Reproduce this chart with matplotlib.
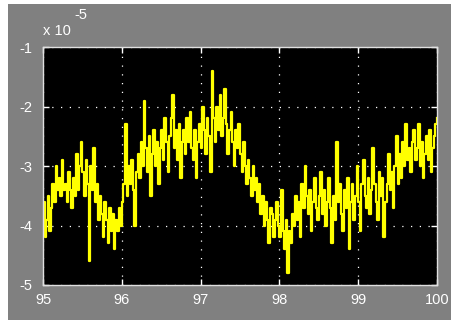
import numpy as np
import matplotlib
matplotlib.use("Agg")
import matplotlib.pyplot as plt
from matplotlib.patches import Rectangle

# signal samples, in units of 1e-5, every 0.02 s from t=95
t0 = 95.0
dt = 0.02
y_e5 = [
    -3.6, -4.2, -3.9, -3.5, -4.1, -3.7, -3.3, -3.6, -3.0, -3.4, -3.2, -3.5, -2.9, -3.4, -3.3, -3.6, -3.1, -3.4, -3.7, -3.2, -3.5, -2.8, -3.4, -3.0, -2.6,
    -3.1, -3.5, -2.9, -3.3, -4.6, -3.0, -3.4, -2.7, -3.6, -3.3, -3.9, -3.5, -3.8, -4.2, -3.6, -3.9, -4.3, -3.7, -4.1, -3.8, -4.4, -3.9, -4.1, -3.7, -4.0,
    -3.6, -3.3, -2.3, -3.5, -3.0, -3.3, -2.9, -3.4, -4.0, -3.1, -2.8, -3.2, -2.6, -3.0, -1.9, -2.7, -3.1, -2.5, -3.5, -2.8, -2.4, -3.0, -2.6, -3.3, -2.7,
    -2.4, -2.9, -2.2, -2.6, -3.1, -2.5, -2.2, -1.8, -2.7, -2.4, -2.9, -2.3, -3.2, -2.6, -2.4, -2.8, -2.2, -2.6, -2.1, -2.7, -2.9, -2.4, -3.2, -2.6, -2.3,
    -2.7, -2.0, -2.4, -2.8, -2.2, -2.5, -3.1, -1.4, -2.2, -2.6, -2.0, -2.4, -1.8, -2.5, -2.2, -1.7, -2.3, -2.8, -2.4, -2.1, -2.6, -3.0, -2.4, -2.7, -2.3,
    -2.8, -3.1, -2.6, -3.0, -3.3, -2.9, -3.2, -3.5, -3.0, -3.4, -3.2, -3.6, -3.3, -3.8, -3.5, -4.0, -3.6, -3.9, -4.3, -3.7, -3.8, -4.2, -3.9, -3.6, -4.0,
    -4.2, -3.4, -4.1, -4.4, -3.9, -4.8, -4.1, -4.3, -3.8, -4.0, -3.5, -3.9, -3.6, -4.2, -3.3, -3.7, -3.0, -3.5, -3.8, -3.4, -4.1, -3.6, -3.2, -3.7, -3.9,
    -3.5, -3.1, -3.8, -3.4, -4.0, -3.6, -3.2, -3.7, -4.3, -3.5, -3.9, -2.6, -3.6, -3.3, -3.8, -4.1, -3.4, -3.7, -3.2, -4.4, -3.6, -3.3, -3.9, -3.5, -3.0,
    -3.6, -4.1, -3.3, -2.9, -3.5, -3.7, -3.2, -3.8, -3.4, -2.7, -3.3, -3.6, -3.9, -3.1, -3.5, -3.2, -4.2, -3.6, -3.3, -2.8, -3.4, -3.1, -3.7, -3.0, -2.5,
    -3.3, -2.8, -3.2, -2.6, -3.0, -2.3, -2.9, -2.7, -3.1, -2.6, -2.4, -2.9, -2.7, -2.3, -3.0, -2.6, -3.2, -2.8, -2.5, -2.9, -2.4, -3.1, -2.7, -2.5, -2.3,
    -2.2,
]
x_ticks = [95, 96, 97, 98, 99, 100]
y_ticks = [-5, -4, -3, -2, -1]

t = t0 + dt * np.arange(len(y_e5))

fig = plt.figure(figsize=(4.51, 3.22), dpi=100, facecolor="white")
# grey scope panel behind the axes
fig.patches.append(Rectangle((8 / 451, 2 / 322), 1 - 8 / 451, 316 / 322,
                             transform=fig.transFigure, facecolor="#808080",
                             edgecolor="none", zorder=-10))

ax = fig.add_axes([43 / 451, 37 / 322, 394 / 451, 238 / 322])
ax.set_facecolor("black")
ax.step(t, y_e5, where="post", color="#ffff00", lw=1.6)

ax.set_xlim(95, 100)
ax.set_ylim(-5, -1)
ax.set_xticks(x_ticks)
ax.set_yticks(y_ticks)
ax.set_xticklabels([str(v) for v in x_ticks])
ax.set_yticklabels([str(v) for v in y_ticks])

ax.grid(True, color="white", linestyle=(0, (1, 6)), linewidth=0.9)
for s in ax.spines.values():
    s.set_color("#e0e0e0")
    s.set_linewidth(1.0)
ax.tick_params(direction="in", colors="white", length=4, width=1,
               top=True, right=True, labelsize=10.5, pad=6)
for lab in ax.get_xticklabels() + ax.get_yticklabels():
    lab.set_family("Liberation Sans")
ax.tick_params(axis="y", pad=8)

fig.text(43 / 451, 1 - 31 / 322, "x 10", color="white", fontsize=10.5,
         family="Liberation Sans", va="center", ha="left")
fig.text(74 / 451, 1 - 15 / 322, "-5", color="white", fontsize=10.5,
         family="Liberation Sans", va="center", ha="left")

fig.savefig("out.png", dpi=100, facecolor=fig.get_facecolor())
